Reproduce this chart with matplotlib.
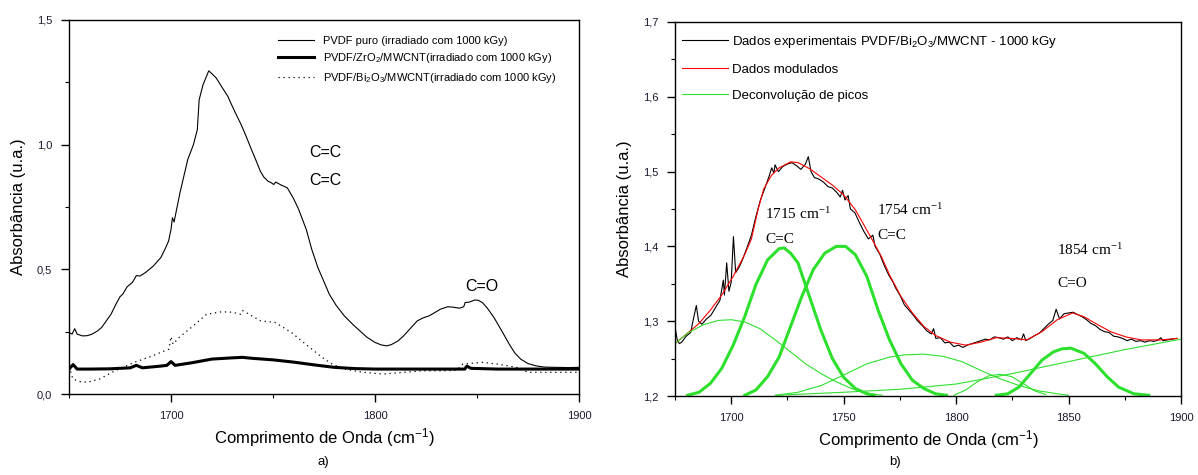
import matplotlib.pyplot as plt
from matplotlib.ticker import MultipleLocator, FuncFormatter
from matplotlib import font_manager

names = {f.name for f in font_manager.fontManager.ttflist}
narrow = 'Liberation Sans Narrow' if 'Liberation Sans Narrow' in names else 'Liberation Sans'
plt.rcParams['font.family'] = [narrow, 'DejaVu Sans']
plt.rcParams['mathtext.default'] = 'regular'

# ---- panel a) data ----
puro_x = [1650, 1651.5, 1652.8, 1654, 1656.6, 1659, 1661.3, 1664, 1666, 1668, 1670.6, 1673, 1675,
          1676.3, 1678.5, 1681, 1682, 1683, 1684.7, 1687.5, 1691.3, 1695, 1697, 1698.8, 1700,
          1700.7, 1701.5, 1704.4, 1708.2, 1711, 1712.9, 1713.8, 1715.7, 1718.5, 1720, 1722.2,
          1725, 1727.9, 1729.7, 1732, 1734.4, 1737, 1739.1, 1741.5, 1743.8, 1745.5, 1747.6,
          1749, 1750.4, 1751.3, 1754, 1757, 1760, 1762.6, 1766.3, 1769, 1772, 1775, 1777.6,
          1781, 1785, 1789, 1792.6, 1796, 1800, 1803, 1805.7, 1808, 1811.3, 1814, 1817, 1820.7,
          1823.5, 1826.4, 1829, 1832, 1835.7, 1838.5, 1841.4, 1843.5, 1844.2, 1846, 1848.9,
          1850.5, 1852.6, 1855, 1858.3, 1862, 1865.8, 1868.5, 1871.4, 1875, 1878.9, 1883,
          1888.3, 1895, 1900]
puro_y = [0.247, 0.24, 0.262, 0.24, 0.233, 0.234, 0.24, 0.253, 0.267, 0.29, 0.32, 0.36, 0.39,
          0.40, 0.43, 0.447, 0.46, 0.475, 0.473, 0.487, 0.513, 0.547, 0.58, 0.613, 0.66,
          0.707, 0.69, 0.807, 0.94, 1.0, 1.06, 1.18, 1.24, 1.296, 1.285, 1.267,
          1.23, 1.193, 1.16, 1.12, 1.08, 1.03, 0.987, 0.94, 0.893, 0.87, 0.853,
          0.848, 0.84, 0.85, 0.838, 0.827, 0.785, 0.74, 0.66, 0.58, 0.507, 0.45, 0.40,
          0.355, 0.313, 0.28, 0.253, 0.228, 0.207, 0.197, 0.193, 0.198, 0.213, 0.233, 0.26, 0.293,
          0.305, 0.313, 0.325, 0.34, 0.35, 0.348, 0.344, 0.35, 0.367, 0.368, 0.377,
          0.376, 0.367, 0.345, 0.307, 0.255, 0.20, 0.165, 0.14, 0.122, 0.113, 0.108,
          0.107, 0.106, 0.107]

zro2_x = [1650, 1652, 1654, 1660, 1670, 1680, 1683, 1686, 1695, 1698, 1700, 1702, 1710, 1720,
          1730, 1735, 1740, 1750, 1760, 1770, 1780, 1790, 1800, 1820, 1844, 1845, 1847, 1860,
          1880, 1900]
zro2_y = [0.10, 0.118, 0.10, 0.10, 0.101, 0.105, 0.115, 0.105, 0.112, 0.115, 0.13, 0.115, 0.125,
          0.14, 0.145, 0.147, 0.143, 0.137, 0.128, 0.117, 0.107, 0.102, 0.10, 0.10, 0.10, 0.112,
          0.103, 0.10, 0.10, 0.10]

bi2o3_x = [1650, 1651, 1652, 1655, 1659, 1665, 1672.5, 1682, 1690, 1695, 1699, 1700, 1701, 1704,
           1710, 1717.5, 1725, 1730, 1734, 1735, 1744, 1751, 1759, 1766, 1774, 1779, 1785,
           1794, 1804, 1822.6, 1832, 1840, 1843, 1852.6, 1860, 1869.5, 1875, 1888, 1900]
bi2o3_y = [0.13, 0.08, 0.06, 0.05, 0.047, 0.06, 0.093, 0.127, 0.15, 0.167, 0.18, 0.23, 0.2, 0.227,
           0.267, 0.32, 0.33, 0.328, 0.32, 0.335, 0.293, 0.287, 0.247, 0.2, 0.147, 0.12, 0.10,
           0.087, 0.08, 0.093, 0.093, 0.095, 0.12, 0.127, 0.12, 0.107, 0.087, 0.087, 0.087]

# ---- panel b) data ----
exp_x = [1675, 1676, 1677, 1678, 1680, 1682, 1683, 1684.5, 1685.5, 1687, 1689, 1691, 1693, 1695,
         1696.5, 1697, 1698, 1699, 1700, 1701, 1702, 1703.5, 1705, 1707, 1709, 1711, 1713, 1715,
         1717, 1718, 1719, 1719.5, 1721, 1723, 1725, 1727, 1729, 1731, 1733, 1734.3, 1735.5,
         1737, 1739, 1741, 1743, 1745, 1747, 1748.5, 1749.5, 1750.6, 1752, 1753, 1755, 1757,
         1759, 1761, 1763, 1764, 1766, 1768, 1770, 1772, 1773, 1775, 1777, 1779, 1781, 1783,
         1785, 1787, 1789, 1790, 1791, 1793, 1795, 1797, 1799, 1801, 1803, 1805, 1807, 1809,
         1811, 1813, 1815, 1817, 1819, 1821, 1823, 1825, 1827, 1829, 1830, 1831, 1833, 1835,
         1837, 1839, 1841, 1843, 1844.5, 1846, 1848, 1850, 1852, 1854, 1856, 1858, 1860, 1862,
         1864, 1866, 1868, 1870, 1872, 1874, 1876, 1878, 1880, 1882, 1884, 1886, 1888, 1890,
         1891, 1892, 1894, 1896, 1898]
exp_y = [1.293, 1.275, 1.270, 1.272, 1.280, 1.285, 1.300, 1.321, 1.300, 1.296, 1.303, 1.308,
         1.318, 1.328, 1.355, 1.335, 1.378, 1.340, 1.352, 1.413, 1.365, 1.372, 1.382, 1.398,
         1.415, 1.440, 1.462, 1.478, 1.495, 1.505, 1.498, 1.509, 1.500, 1.507, 1.510, 1.512,
         1.508, 1.503, 1.510, 1.520, 1.500, 1.492, 1.490, 1.486, 1.480, 1.478, 1.472, 1.466,
         1.475, 1.462, 1.468, 1.450, 1.445, 1.432, 1.420, 1.410, 1.415, 1.400, 1.390, 1.375,
         1.362, 1.352, 1.345, 1.335, 1.322, 1.315, 1.308, 1.300, 1.294, 1.287, 1.283, 1.290,
         1.277, 1.278, 1.271, 1.272, 1.266, 1.268, 1.265, 1.268, 1.270, 1.272, 1.274, 1.276,
         1.275, 1.279, 1.278, 1.276, 1.279, 1.274, 1.278, 1.275, 1.283, 1.274, 1.277, 1.281,
         1.284, 1.290, 1.296, 1.301, 1.316, 1.303, 1.310, 1.311, 1.312, 1.309, 1.306, 1.302,
         1.297, 1.294, 1.289, 1.286, 1.285, 1.280, 1.279, 1.277, 1.274, 1.276, 1.273, 1.274,
         1.272, 1.274, 1.273, 1.275, 1.278, 1.274, 1.275, 1.276, 1.277]

fit_x = [1675, 1680.6, 1685.7, 1690.8, 1695.8, 1700.9, 1706, 1709, 1712, 1714.5, 1717.9, 1721.3,
         1726.4, 1729.7, 1734.8, 1739.9, 1745, 1750, 1755.2, 1758.6, 1761, 1764, 1767, 1770.4,
         1775.5, 1780.6, 1785.7, 1790.8, 1797.5, 1804.3, 1811, 1817.9, 1824.7, 1831.4, 1838.2,
         1845, 1851.8, 1856.9, 1862, 1868.7, 1875.5, 1882.3, 1890.8, 1898.4]
fit_y = [1.270, 1.284, 1.297, 1.315, 1.335, 1.360, 1.389, 1.410, 1.450, 1.477, 1.495, 1.505,
         1.513, 1.512, 1.504, 1.493, 1.482, 1.469, 1.449, 1.431, 1.418, 1.402, 1.385, 1.362,
         1.333, 1.311, 1.293, 1.281, 1.272, 1.268, 1.272, 1.278, 1.277, 1.275, 1.286,
         1.302, 1.311, 1.306, 1.297, 1.286, 1.279, 1.275, 1.275, 1.277]

# thick peaks
pk1_x = [1680.6, 1685.7, 1690.8, 1695.8, 1700.9, 1706, 1711, 1716.2, 1721.3, 1723.5, 1726.4,
         1729.7, 1734.8, 1739.9, 1745, 1750, 1755.2, 1760.3, 1763.6]
pk1_y = [1.201, 1.205, 1.217, 1.237, 1.268, 1.306, 1.349, 1.382, 1.397, 1.398, 1.391,
         1.378, 1.333, 1.288, 1.250, 1.225, 1.210, 1.203, 1.201]
pk2_x = [1706, 1711, 1716.2, 1721.3, 1726.4, 1731.4, 1736.5, 1741.6, 1746.7, 1750.9, 1755.2,
         1760.3, 1765.3, 1770.4, 1775.5, 1780.6, 1785.7, 1790.8, 1795.8]
pk2_y = [1.201, 1.208, 1.226, 1.252, 1.293, 1.333, 1.369, 1.391, 1.400, 1.400, 1.389,
         1.360, 1.315, 1.275, 1.243, 1.221, 1.210, 1.203, 1.201]
pk3_x = [1817.9, 1823, 1828, 1833.1, 1838.2, 1843.3, 1847, 1851, 1856.9, 1862, 1867.1, 1872.2,
         1879, 1885.7]
pk3_y = [1.201, 1.203, 1.212, 1.230, 1.248, 1.259, 1.263, 1.264, 1.257, 1.243, 1.226, 1.212,
         1.203, 1.201]
# thin components
cp1_x = [1675, 1680.6, 1687.4, 1694.2, 1700, 1706, 1712.8, 1719.6, 1726.4, 1733.1, 1739.9,
         1746.7, 1753.5, 1760.3, 1767]
cp1_y = [1.270, 1.284, 1.295, 1.301, 1.302, 1.299, 1.290, 1.275, 1.259, 1.243, 1.230,
         1.219, 1.210, 1.204, 1.201]
cp2_x = [1719.6, 1729.7, 1740, 1750, 1760.3, 1770.4, 1777.2, 1785.7, 1794.2, 1802.6, 1811.1,
         1819.6, 1828, 1836.5, 1845, 1850]
cp2_y = [1.201, 1.205, 1.214, 1.228, 1.243, 1.252, 1.255, 1.256, 1.253, 1.246, 1.234,
         1.223, 1.214, 1.207, 1.203, 1.201]
cp3_x = [1799, 1804.3, 1809.4, 1814.5, 1819.6, 1824.7, 1829.7, 1834.8, 1839.9]
cp3_y = [1.201, 1.208, 1.219, 1.227, 1.229, 1.226, 1.217, 1.207, 1.202]
base_x = [1720, 1750, 1775, 1800, 1825, 1850, 1875, 1900]
base_y = [1.201, 1.205, 1.209, 1.216, 1.230, 1.246, 1.262, 1.276]

comma = FuncFormatter(lambda v, p: f"{v:.1f}".replace('.', ','))
ink = '#1a1a2e'
green = '#2ee02e'

fig = plt.figure(figsize=(11.98, 4.75), dpi=100)
ax1 = fig.add_axes([0.0576, 0.1705, 0.4257, 0.7875])
ax2 = fig.add_axes([0.5634, 0.1663, 0.4224, 0.7874])

# ---- a) ----
ax1.plot(puro_x, puro_y, color='black', lw=0.8, label='PVDF puro (irradiado com 1000 kGy)')
ax1.plot(zro2_x, zro2_y, color='black', lw=2.2, label='PVDF/ZrO$_2$/MWCNT(irradiado com 1000 kGy)')
ax1.plot(bi2o3_x, bi2o3_y, color='black', lw=0.9, ls=(0, (1, 3)),
         label='PVDF/Bi$_2$O$_3$/MWCNT(irradiado com 1000 kGy)')
ax1.set_xlim(1650, 1900)
ax1.set_ylim(0, 1.5)
ax1.xaxis.set_major_locator(MultipleLocator(100))
ax1.xaxis.set_minor_locator(MultipleLocator(50))
ax1.yaxis.set_major_locator(MultipleLocator(0.5))
ax1.yaxis.set_minor_locator(MultipleLocator(0.25))
ax1.yaxis.set_major_formatter(comma)
ax1.text(1768, 0.967, 'C=C', fontsize=11.5, ha='left', va='center')
ax1.text(1768, 0.858, 'C=C', fontsize=11.5, ha='left', va='center')
ax1.text(1844, 0.43, 'C=O', fontsize=11.5, ha='left', va='center')
ax1.legend(loc='upper right', frameon=False, fontsize=8, handlelength=3.2,
           bbox_to_anchor=(0.975, 0.985), labelspacing=0.5)
ax1.set_xlabel('Comprimento de Onda (cm$^{-1}$)', fontsize=12, labelpad=4)
ax1.set_ylabel('Absorbância (u.a.)', fontsize=12, labelpad=8)

# ---- b) ----
ax2.plot(exp_x, exp_y, color='black', lw=0.8, label='Dados experimentais PVDF/Bi$_2$O$_3$/MWCNT - 1000 kGy')
ax2.plot(fit_x, fit_y, color='#ff0000', lw=0.8, label='Dados modulados')
ax2.plot(cp1_x, cp1_y, color=green, lw=0.8, label='Deconvolução de picos')
for gx, gy in [(cp2_x, cp2_y), (cp3_x, cp3_y), (base_x, base_y)]:
    ax2.plot(gx, gy, color=green, lw=0.8)
for gx, gy in [(pk1_x, pk1_y), (pk2_x, pk2_y), (pk3_x, pk3_y)]:
    ax2.plot(gx, gy, color=green, lw=2.2)
ax2.set_xlim(1675, 1900)
ax2.set_ylim(1.2, 1.7)
ax2.xaxis.set_major_locator(MultipleLocator(50))
ax2.xaxis.set_minor_locator(MultipleLocator(25))
ax2.yaxis.set_major_locator(MultipleLocator(0.1))
ax2.yaxis.set_minor_locator(MultipleLocator(0.05))
ax2.yaxis.set_major_formatter(comma)
serif = ['Liberation Serif', 'DejaVu Serif']
for tx, ty, s in [(1715, 1.443, '1715 cm$^{-1}$'), (1715, 1.409, 'C=C'),
                  (1765, 1.449, '1754 cm$^{-1}$'), (1765, 1.415, 'C=C'),
                  (1845, 1.395, '1854 cm$^{-1}$'), (1845, 1.351, 'C=O')]:
    ax2.text(tx, ty, s, family=serif, fontsize=11, ha='left', va='center')
ax2.legend(loc='upper left', frameon=False, fontsize=9.5, handlelength=3.5,
           bbox_to_anchor=(-0.01, 1.0), labelspacing=1.05, handletextpad=0.3)
ax2.set_xlabel('Comprimento de Onda (cm$^{-1}$)', fontsize=12, labelpad=4)
ax2.set_ylabel('Absorbância (u.a.)', fontsize=12, labelpad=8)

for ax in (ax1, ax2):
    ax.tick_params(which='both', direction='out', top=False, right=False,
                   labelsize=8, labelcolor=ink, pad=6)
    ax.tick_params(which='major', length=6, width=1)
    ax.tick_params(which='minor', length=3, width=0.8)
    for sp in ax.spines.values():
        sp.set_linewidth(1.0)

fig.text(0.2696, 0.021, 'a)', fontsize=9.5, ha='center')
fig.text(0.747, 0.021, 'b)', fontsize=9.5, ha='center')

fig.savefig('out.png', dpi=100)
